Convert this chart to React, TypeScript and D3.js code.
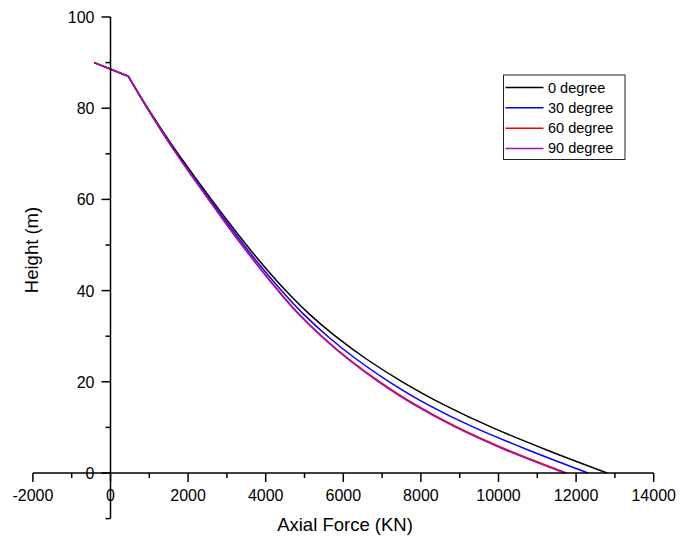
import React from "react";
import * as d3 from "d3";

const heights = [90, 87, 85, 80, 75, 70, 65, 60, 55, 50, 45, 40, 35, 30, 25, 20, 15, 10, 5, 0];
const deg0 = [-420, 460, 600, 960, 1340, 1740, 2165, 2600, 3045, 3505, 3990, 4515, 5105, 5795, 6595, 7520, 8585, 9830, 11260, 12800];
const deg30 = [-420, 460, 597, 951, 1325, 1718, 2133, 2558, 2992, 3438, 3906, 4405, 4954, 5595, 6331, 7184, 8175, 9370, 10780, 12310];
const deg60 = [-420, 460, 595, 945, 1315, 1702, 2110, 2528, 2953, 3390, 3845, 4325, 4845, 5450, 6140, 6940, 7860, 8950, 10250, 11755];
const deg90 = [-420, 460, 595, 944, 1314, 1700, 2107, 2524, 2948, 3384, 3837, 4315, 4831, 5431, 6115, 6908, 7820, 8902, 10194, 11698];

const seriesNames = ["0 degree", "30 degree", "60 degree", "90 degree"];
const seriesValues = [deg0, deg30, deg60, deg90];
const seriesColors = ["#000000", "#0000ff", "#ff0000", "#a010b8"];

const xMajorTicks = [-2000, 0, 2000, 4000, 6000, 8000, 10000, 12000, 14000];
const xMinorTicks = [-1000, 1000, 3000, 5000, 7000, 9000, 11000, 13000];
const yMajorTicks = [0, 20, 40, 60, 80, 100];
const yMinorTicks = [-10, 10, 30, 50, 70, 90];

const xTitle = "Axial Force (KN)";
const yTitle = "Height (m)";

const FONT = "Arial, 'Liberation Sans', sans-serif";

export default function App() {
  const W = 681;
  const H = 544;
  const x = d3.scaleLinear().domain([-2000, 14000]).range([32.9, 653.7]);
  const y = d3.scaleLinear().domain([0, 100]).range([473, 17]);
  const majorLen = 9;
  const minorLen = 5;

  const straight = d3
    .line<[number, number]>()
    .x((d) => x(d[0]))
    .y((d) => y(d[1]));
  const smooth = d3
    .line<[number, number]>()
    .x((d) => x(d[0]))
    .y((d) => y(d[1]))
    .curve(d3.curveMonotoneY);

  const x0 = x(0);
  const y0 = y(0);

  const legendX = 503.5;
  const legendY = 75;
  const legendW = 121.5;
  const legendH = 84.5;
  const rowYs = [87.5, 107.8, 128.2, 148.4];

  return (
    <svg
      width={W}
      height={H}
      style={{ position: "absolute", left: 0, top: 0, background: "#fff" }}
      fontFamily={FONT}
    >
      <rect x={0} y={0} width={W} height={H} fill="#fff" />
      {/* series */}
      {seriesValues.map((vals, si) => {
        const pts: [number, number][] = vals.map((v, i) => [v, heights[i]]);
        return (
          <g key={si} fill="none" stroke={seriesColors[si]} strokeWidth={1.5} strokeLinejoin="round">
            <path d={straight(pts.slice(0, 2)) || ""} />
            <path d={smooth(pts.slice(1)) || ""} />
          </g>
        );
      })}

      {/* axes */}
      <g stroke="#000" strokeWidth={1.5}>
        <line x1={x(-2000)} x2={x(14000)} y1={y0} y2={y0} />
        {xMajorTicks.map((t) => (
          <line key={"xm" + t} x1={x(t)} x2={x(t)} y1={y0} y2={y0 + majorLen} />
        ))}
        {xMinorTicks.map((t) => (
          <line key={"xn" + t} x1={x(t)} x2={x(t)} y1={y0} y2={y0 + minorLen} />
        ))}
        <line x1={x0} x2={x0} y1={y(100)} y2={y(-10)} />
        {yMajorTicks.map((t) => (
          <line key={"ym" + t} x1={x0 - majorLen} x2={x0} y1={y(t)} y2={y(t)} />
        ))}
        {yMinorTicks.map((t) => (
          <line key={"yn" + t} x1={x0 - minorLen} x2={x0} y1={y(t)} y2={y(t)} />
        ))}
      </g>

      {/* tick labels */}
      <g fontSize={16} fill="#000">
        {xMajorTicks.map((t) => (
          <text key={"xl" + t} x={x(t)} y={y0 + 28} textAnchor="middle">
            {t}
          </text>
        ))}
        {yMajorTicks.map((t) => (
          <text key={"yl" + t} x={x0 - 16} y={y(t) + 6} textAnchor="end">
            {t}
          </text>
        ))}
      </g>

      {/* titles */}
      <text x={345} y={531} fontSize={18.5} textAnchor="middle" fill="#000">
        {xTitle}
      </text>
      <text transform={`translate(38,250) rotate(-90)`} fontSize={18.5} textAnchor="middle" fill="#000">
        {yTitle}
      </text>

      {/* legend */}
      <rect x={legendX} y={legendY} width={legendW} height={legendH} fill="#fff" stroke="#222" strokeWidth={1} />
      {seriesNames.map((name, i) => (
        <g key={name}>
          <line x1={505.5} x2={543.5} y1={rowYs[i]} y2={rowYs[i]} stroke={seriesColors[i]} strokeWidth={1.5} />
          <text x={548} y={rowYs[i] + 5} fontSize={14.5} fill="#000">
            {name}
          </text>
        </g>
      ))}
    </svg>
  );
}
